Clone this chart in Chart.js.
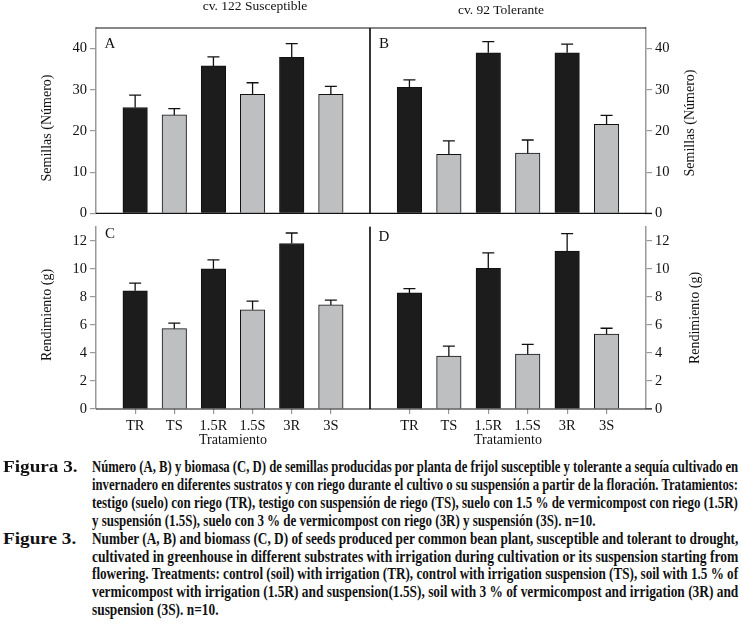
<!DOCTYPE html>
<html>
<head>
<meta charset="utf-8">
<script src="https://cdn.jsdelivr.net/npm/chart.js@4.4.1/dist/chart.umd.min.js"></script>
<style>
  body { margin: 0; background: #fff; }
  #wrap { position: relative; width: 741px; height: 624px; overflow: hidden; font-family: "Liberation Serif", serif; color: #111; }
  canvas { position: absolute; }
  .t { position: absolute; white-space: nowrap; font-size: 14px; transform: translate(-50%, -50%); }
  .rot { transform: translate(-50%, -50%) rotate(-90deg); }
  .cap { position: absolute; white-space: nowrap; font-size: 16px; font-weight: bold; line-height: 18px; transform-origin: left center; }
</style>
</head>
<body>
<div id="wrap">
  <canvas id="cA"></canvas>
  <canvas id="cB"></canvas>
  <canvas id="cC"></canvas>
  <canvas id="cD"></canvas>

  <div class="t" style="left:255px; top:6px; font-size:13.5px;">cv. 122 Susceptible</div>
  <div class="t" style="left:501px; top:10px; font-size:13.5px;">cv. 92 Tolerante</div>

  <div class="t" style="left:110px; top:43px; font-size:15px;">A</div>
  <div class="t" style="left:384px; top:43px; font-size:15px;">B</div>
  <div class="t" style="left:110px; top:233px; font-size:15px;">C</div>
  <div class="t" style="left:384px; top:236px; font-size:15px;">D</div>

  <div class="t rot" style="left:47px; top:128px;">Semillas (Número)</div>
  <div class="t rot" style="left:690px; top:123px;">Semillas (Número)</div>
  <div class="t rot" style="left:47px; top:315px;">Rendimiento (g)</div>
  <div class="t rot" style="left:695px; top:318px;">Rendimiento (g)</div>

  <div class="t" style="left:233px; top:440px;">Tratamiento</div>
  <div class="t" style="left:508px; top:440px;">Tratamiento</div>

  <div id="caption"></div>
</div>

<script>
// categorias (tratamientos)
const tratamientos = ['TR', 'TS', '1.5R', '1.5S', '3R', '3S'];
const colores = ['#1c1c1c', '#bebfc1', '#1c1c1c', '#bebfc1', '#1c1c1c', '#bebfc1'];

// A: semillas, cv. 122 susceptible
const semillasSusc = [25.7, 23.9, 35.8, 28.9, 37.9, 28.9];
const errSemSusc   = [3.0, 1.5, 2.2, 2.8, 3.3, 1.9];
// B: semillas, cv. 92 tolerante
const semillasTol  = [30.6, 14.3, 39.0, 14.6, 39.0, 21.6];
const errSemTol    = [1.8, 3.3, 2.7, 3.2, 2.1, 2.2];
// C: rendimiento, susceptible
const rendSusc     = [8.43, 5.73, 10.0, 7.08, 11.8, 7.42];
const errRendSusc  = [0.55, 0.40, 0.64, 0.61, 0.75, 0.34];
// D: rendimiento, tolerante
const rendTol      = [8.28, 3.77, 10.04, 3.92, 11.27, 5.35];
const errRendTol   = [0.31, 0.71, 1.10, 0.69, 1.23, 0.41];

const ticksSemillas = [0, 10, 20, 30, 40];
const ticksRend = [0, 2, 4, 6, 8, 10, 12];

Chart.defaults.font.family = '"Liberation Serif", serif';
Chart.defaults.font.size = 14;
Chart.defaults.color = '#111';
Chart.defaults.animation = false;

// barras de error + lineas del marco
const extras = {
  id: 'extras',
  afterDatasetsDraw(chart, args, opts) {
    const ctx = chart.ctx;
    const ds = chart.data.datasets[0];
    const meta = chart.getDatasetMeta(0);
    const y = chart.scales.y;
    ctx.save();
    ctx.strokeStyle = '#111';
    ctx.lineWidth = 1.3;
    meta.data.forEach((bar, i) => {
      const y0 = y.getPixelForValue(ds.data[i].y);
      const y1 = y.getPixelForValue(ds.data[i].y + ds.errors[i]);
      ctx.beginPath();
      ctx.moveTo(bar.x, y0);
      ctx.lineTo(bar.x, y1);
      ctx.moveTo(bar.x - 6, y1);
      ctx.lineTo(bar.x + 6, y1);
      ctx.stroke();
    });
    const a = chart.chartArea;
    ctx.strokeStyle = '#111';
    ctx.lineWidth = 1.2;
    ctx.beginPath();
    (opts.sides || []).forEach(s => {
      if (s === 'top') { ctx.moveTo(a.left, a.top); ctx.lineTo(a.right, a.top); }
      if (s === 'bottom') { ctx.moveTo(a.left - (opts.extL || 0), a.bottom); ctx.lineTo(a.right + (opts.extR || 0), a.bottom); }
      if (s === 'left') { ctx.moveTo(a.left, a.top); ctx.lineTo(a.left, a.bottom); }
      if (s === 'right') { ctx.moveTo(a.right, a.top); ctx.lineTo(a.right, a.bottom); }
    });
    ctx.stroke();
    ctx.restore();
  }
};

function panel(id, box, values, errors, cfg) {
  const el = document.getElementById(id);
  el.style.left = box.left + 'px';
  el.style.top = box.top + 'px';
  el.style.width = box.w + 'px';
  el.style.height = box.h + 'px';
  el.width = box.w; el.height = box.h;
  return new Chart(el, {
    type: 'bar',
    data: {
      datasets: [{
        data: values.map((v, i) => ({ x: i + 1, y: v })),
        errors: errors,
        backgroundColor: colores,
        borderColor: '#111',
        borderWidth: 1,
        barThickness: 24.5
      }]
    },
    options: {
      responsive: false,
      devicePixelRatio: 1,
      layout: { padding: cfg.padding },
      plugins: {
        legend: { display: false },
        tooltip: { enabled: false },
        extras: { sides: cfg.sides, extL: cfg.extL, extR: cfg.extR }
      },
      scales: {
        x: {
          type: 'linear',
          min: 0, max: 7,
          offset: false,
          display: cfg.xLabels,
          afterBuildTicks: s => { s.ticks = tratamientos.map((c, i) => ({ value: i + 1 })); },
          afterFit: s => { s.height = cfg.xHeight || 0; },
          ticks: { callback: v => tratamientos[v - 1] || '', padding: 3, maxRotation: 0, autoSkip: false, font: { size: 14.5 } },
          grid: { offset: false, drawOnChartArea: false, tickLength: 5, color: '#999', lineWidth: 1.2 },
          border: { display: false }
        },
        y: {
          position: cfg.yPos,
          min: 0, max: cfg.yMax,
          afterBuildTicks: s => { s.ticks = cfg.yTicks.map(v => ({ value: v })); },
          afterFit: s => { s.width = cfg.yWidth; },
          ticks: { padding: 3, font: { size: 14.5 } },
          grid: { drawOnChartArea: false, tickLength: 6, color: '#999', lineWidth: 1.2 },
          border: { display: true, color: '#999', width: 1.5 }
        }
      }
    },
    plugins: [extras]
  });
}

panel('cA', { left: 0, top: 0, w: 375, h: 225 }, semillasSusc, errSemSusc, {
  padding: { top: 28, right: 5, bottom: 5, left: 0 },
  sides: ['top', 'right', 'bottom'], extR: 0,
  yPos: 'left', yMax: 45, yTicks: ticksSemillas, yWidth: 96, xLabels: false
});
panel('cB', { left: 365, top: 0, w: 376, h: 225 }, semillasTol, errSemTol, {
  padding: { top: 28, right: 0, bottom: 5, left: 5 },
  sides: ['top', 'left', 'bottom'], extR: 6,
  yPos: 'right', yMax: 45, yTicks: ticksSemillas, yWidth: 95, xLabels: false
});
panel('cC', { left: 0, top: 215, w: 375, h: 235 }, rendSusc, errRendSusc, {
  padding: { top: 5, right: 5, bottom: 0, left: 0 },
  sides: ['right', 'bottom'],
  yPos: 'left', yMax: 13, yTicks: ticksRend, yWidth: 96, xLabels: true, xHeight: 41
});
panel('cD', { left: 365, top: 215, w: 376, h: 235 }, rendTol, errRendTol, {
  padding: { top: 5, right: 0, bottom: 0, left: 5 },
  sides: ['left', 'bottom'], extR: 6,
  yPos: 'right', yMax: 13, yTicks: ticksRend, yWidth: 95, xLabels: true, xHeight: 41
});

// pie de figura
const capLabels = [['Figura 3.', 0], ['Figure 3.', 4]];
const capLines = [
  ['Número (A, B) y biomasa (C, D) de semillas producidas por planta de frijol susceptible y tolerante a sequía cultivado en', true],
  ['invernadero en diferentes sustratos y con riego durante el cultivo o su suspensión a partir de la floración.  Tratamientos:', true],
  ['testigo (suelo) con riego (TR), testigo con suspensión de riego (TS), suelo con 1.5 % de vermicompost con riego (1.5R)', true],
  ['y suspensión (1.5S), suelo con 3 % de vermicompost con riego (3R) y suspensión (3S). n=10.', false],
  ['Number (A, B) and biomass (C, D) of seeds produced per common bean plant, susceptible  and tolerant to drought,', true],
  ['cultivated in greenhouse in different substrates with irrigation during cultivation or its suspension starting from', true],
  ['flowering. Treatments: control (soil) with irrigation (TR), control with irrigation suspension (TS), soil with 1.5 % of', true],
  ['vermicompost with irrigation (1.5R) and suspension(1.5S), soil with 3 % of vermicompost and irrigation (3R) and', true],
  ['suspension (3S). n=10.', false]
];
const cap = document.getElementById('caption');
const x0 = 92, x1 = 738, yTop = 458;
let lastScale = 0.8;
capLines.forEach(([txt, just], i) => {
  const d = document.createElement('div');
  d.className = 'cap';
  d.textContent = txt;
  d.style.left = x0 + 'px';
  d.style.top = (yTop + i * 17.9) + 'px';
  cap.appendChild(d);
  if (just) lastScale = (x1 - x0) / d.offsetWidth;
  d.style.transform = 'scaleX(' + lastScale + ')';
});
capLabels.forEach(([txt, row]) => {
  const d = document.createElement('div');
  d.className = 'cap';
  d.textContent = txt;
  d.style.left = '3px';
  d.style.top = (yTop + row * 17.9) + 'px';
  cap.appendChild(d);
  d.style.transform = 'scaleX(' + Math.min(1.2, 84 / d.offsetWidth) + ')';
});
</script>
</body>
</html>
